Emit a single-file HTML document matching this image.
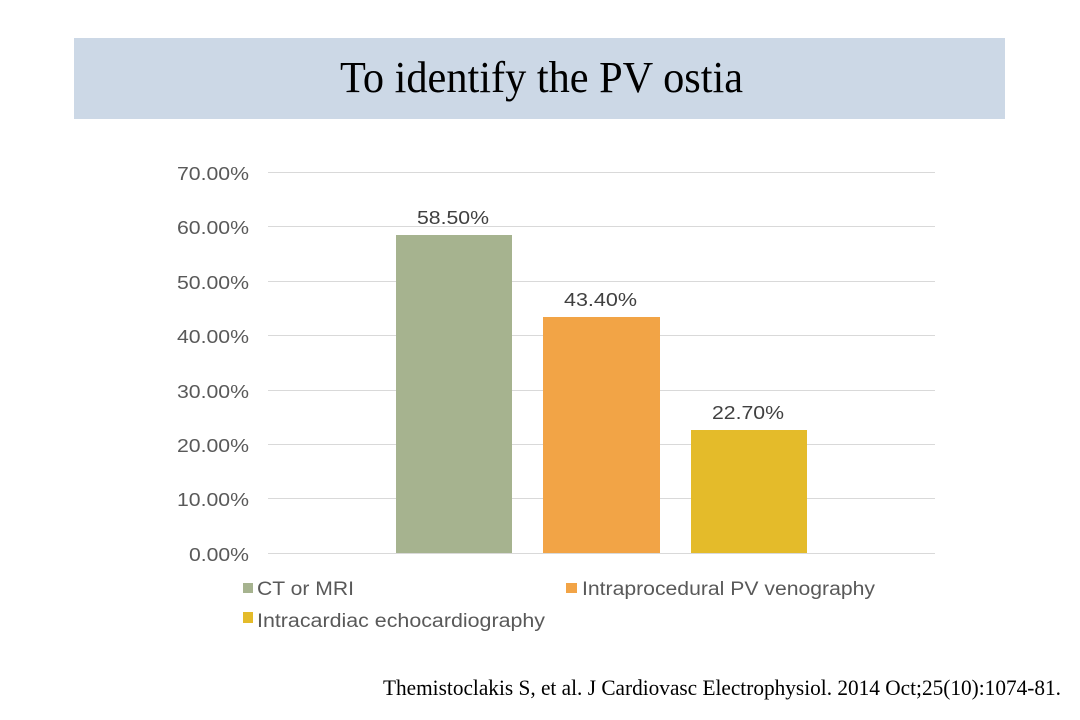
<!DOCTYPE html>
<html>
<head>
<meta charset="utf-8">
<style>
  html,body{margin:0;padding:0;background:#fff;}
  svg{display:block;}
</style>
</head>
<body>
<svg width="1080" height="720" viewBox="0 0 1080 720" xmlns="http://www.w3.org/2000/svg">
  <rect x="0" y="0" width="1080" height="720" fill="#ffffff"/>
  <!-- Title box -->
  <rect x="74" y="38" width="931" height="81" fill="#CCD8E6"/>
  <text x="340" y="92" font-family="Liberation Serif, serif" font-size="44" fill="#000" textLength="403" lengthAdjust="spacingAndGlyphs">To identify the PV ostia</text>

  <!-- Gridlines -->
  <g stroke="#D9D9D9" stroke-width="1">
    <line x1="268" y1="172.5" x2="935" y2="172.5"/>
    <line x1="268" y1="226.5" x2="935" y2="226.5"/>
    <line x1="268" y1="281.5" x2="935" y2="281.5"/>
    <line x1="268" y1="335.5" x2="935" y2="335.5"/>
    <line x1="268" y1="390.5" x2="935" y2="390.5"/>
    <line x1="268" y1="444.5" x2="935" y2="444.5"/>
    <line x1="268" y1="498.5" x2="935" y2="498.5"/>
    <line x1="268" y1="553.5" x2="935" y2="553.5"/>
  </g>

  <!-- Y tick labels -->
  <g font-family="Liberation Sans, Arial, sans-serif" font-size="18" fill="#595959" text-anchor="end">
    <text x="249" y="180" textLength="72" lengthAdjust="spacingAndGlyphs">70.00%</text>
    <text x="249" y="234" textLength="72" lengthAdjust="spacingAndGlyphs">60.00%</text>
    <text x="249" y="289" textLength="72" lengthAdjust="spacingAndGlyphs">50.00%</text>
    <text x="249" y="343" textLength="72" lengthAdjust="spacingAndGlyphs">40.00%</text>
    <text x="249" y="398" textLength="72" lengthAdjust="spacingAndGlyphs">30.00%</text>
    <text x="249" y="452" textLength="72" lengthAdjust="spacingAndGlyphs">20.00%</text>
    <text x="249" y="506" textLength="72" lengthAdjust="spacingAndGlyphs">10.00%</text>
    <text x="249" y="561" textLength="60" lengthAdjust="spacingAndGlyphs">0.00%</text>
  </g>

  <!-- Bars -->
  <rect x="396" y="235" width="116" height="318" fill="#A6B38F"/>
  <rect x="543" y="317" width="117" height="236" fill="#F2A446"/>
  <rect x="691" y="430" width="116" height="123" fill="#E4BB2A"/>

  <!-- Bar labels -->
  <g font-family="Liberation Sans, Arial, sans-serif" font-size="18" fill="#404040" text-anchor="middle">
    <text x="453" y="224" textLength="72" lengthAdjust="spacingAndGlyphs">58.50%</text>
    <text x="600.5" y="306" textLength="73" lengthAdjust="spacingAndGlyphs">43.40%</text>
    <text x="748" y="419" textLength="72" lengthAdjust="spacingAndGlyphs">22.70%</text>
  </g>

  <!-- Legend -->
  <rect x="243" y="583" width="10" height="10" fill="#A6B38F"/>
  <rect x="566" y="583" width="11" height="10" fill="#F2A446"/>
  <rect x="243" y="612" width="10" height="11" fill="#E4BB2A"/>
  <g font-family="Liberation Sans, Arial, sans-serif" font-size="19" fill="#595959">
    <text x="257" y="595" textLength="97" lengthAdjust="spacingAndGlyphs">CT or MRI</text>
    <text x="582" y="595" textLength="293" lengthAdjust="spacingAndGlyphs">Intraprocedural PV venography</text>
    <text x="257" y="627" textLength="288" lengthAdjust="spacingAndGlyphs">Intracardiac echocardiography</text>
  </g>

  <!-- Citation -->
  <text x="383" y="695" font-family="Liberation Serif, serif" font-size="22" fill="#000" textLength="678" lengthAdjust="spacingAndGlyphs">Themistoclakis S, et al. J Cardiovasc Electrophysiol. 2014 Oct;25(10):1074-81.</text>
</svg>
</body>
</html>
